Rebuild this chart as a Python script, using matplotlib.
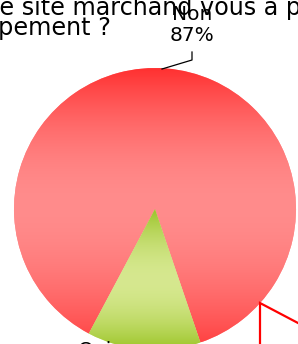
import numpy as np
import matplotlib
matplotlib.use('Agg')
import matplotlib.pyplot as plt
from matplotlib.colors import to_rgb

# data
categories = ['Non', 'Oui']
percents = [87, 13]
title_line1 = 'Sur le site marchand vous a proposé un'
title_line2 = 'autre équipement ?'

# gradient colours (top, middle, bottom) for each slice
grad_colors = {
    'Non': ['#ff2e2e', '#ff8c8c', '#ff4444'],
    'Oui': ['#9cc42a', '#d6e88f', '#9ac424'],
}

W, H = 298, 344
fig = plt.figure(figsize=(W / 100, H / 100), dpi=100)
ax = fig.add_axes([0, 0, 1, 1])

# pie in pixel-like coordinates (y up)
cx, cy, r = 155, 135, 141
wedges, _ = ax.pie(percents, startangle=288.8, counterclock=True,
                   center=(cx, cy), radius=r,
                   colors=[grad_colors[c][1] for c in categories],
                   wedgeprops=dict(linewidth=0))

# vertical gradient fill clipped to each slice
for w, cat in zip(wedges, categories):
    verts = w.get_patch_transform().transform(w.get_path().vertices)
    x0, y0 = verts.min(axis=0)
    x1, y1 = verts.max(axis=0)
    top, mid, bot = [np.array(to_rgb(c)) for c in grad_colors[cat]]
    t = np.linspace(0, 1, 300)[:, None]
    u = (2 * t - 1).clip(0, 1) ** 1.8
    d = (1 - 2 * t).clip(0, 1) ** 1.8
    col = np.where(t >= 0.5, mid + (top - mid) * u, mid + (bot - mid) * d)
    img = np.repeat(col[:, None, :], 2, axis=1)
    im = ax.imshow(img, extent=[x0, x1, y0, y1], origin='lower',
                   aspect='auto', zorder=2, interpolation='bilinear')
    im.set_clip_path(w)

# labels
ax.text(192, 319, f'{categories[0]}\n{percents[0]}%', ha='center', va='center',
        fontsize=14.5, linespacing=1.18, zorder=5)
ax.plot([192, 192, 162], [292, 284, 275], color='black', lw=0.9, zorder=5)
ax.text(95, 3, f'{categories[1]}\n{percents[1]}%', ha='center', va='top',
        fontsize=14.5, linespacing=1.18, zorder=5)

# red annotation lines at bottom right
ax.plot([298, 260, 260], [21, 41, -5], color='#ff0000', lw=1.6,
        solid_joinstyle='miter', zorder=5, clip_on=False)

ax.set_xlim(0, W)
ax.set_ylim(0, H)
ax.set_aspect('auto')
ax.axis('off')

# title (cropped in the original)
fig.text(-55 / W, 1 - 15 / H, title_line1, ha='left', va='baseline', fontsize=17.2)
fig.text(111 / W, 1 - 35.5 / H, title_line2, ha='right', va='baseline', fontsize=17.2)

fig.savefig('out.png', dpi=100)
